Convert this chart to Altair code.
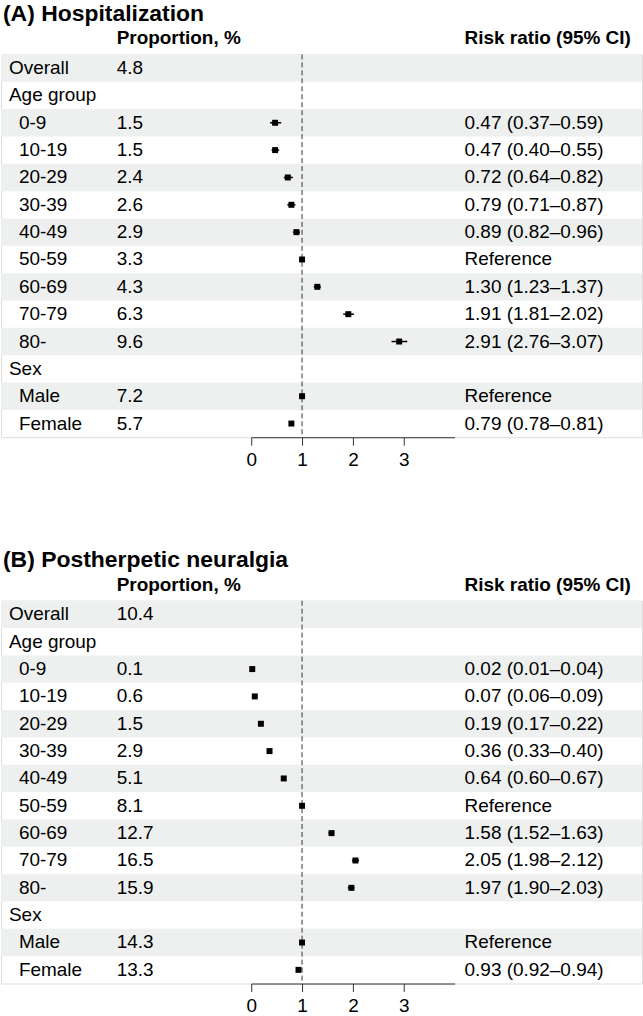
import altair as alt
import pandas as pd

# ---------------- data ----------------
row_labels = ["Overall", "Age group", "0-9", "10-19", "20-29", "30-39", "40-49",
              "50-59", "60-69", "70-79", "80-", "Sex", "Male", "Female"]
row_level = ["top", "top", "sub", "sub", "sub", "sub", "sub",
             "sub", "sub", "sub", "sub", "top", "sub", "sub"]
row_is_ref = [False, False, False, False, False, False, False,
              True, False, False, False, False, True, False]

a_title = "(A) Hospitalization"
a_prop = [4.8, None, 1.5, 1.5, 2.4, 2.6, 2.9, 3.3, 4.3, 6.3, 9.6, None, 7.2, 5.7]
a_rr = [None, None, 0.47, 0.47, 0.72, 0.79, 0.89, 1.00, 1.30, 1.91, 2.91, None, 1.00, 0.79]
a_lo = [None, None, 0.37, 0.40, 0.64, 0.71, 0.82, 1.00, 1.23, 1.81, 2.76, None, 1.00, 0.78]
a_hi = [None, None, 0.59, 0.55, 0.82, 0.87, 0.96, 1.00, 1.37, 2.02, 3.07, None, 1.00, 0.81]

b_title = "(B) Postherpetic neuralgia"
b_prop = [10.4, None, 0.1, 0.6, 1.5, 2.9, 5.1, 8.1, 12.7, 16.5, 15.9, None, 14.3, 13.3]
b_rr = [None, None, 0.02, 0.07, 0.19, 0.36, 0.64, 1.00, 1.58, 2.05, 1.97, None, 1.00, 0.93]
b_lo = [None, None, 0.01, 0.06, 0.17, 0.33, 0.60, 1.00, 1.52, 1.98, 1.90, None, 1.00, 0.92]
b_hi = [None, None, 0.04, 0.09, 0.22, 0.40, 0.67, 1.00, 1.63, 2.12, 2.03, None, 1.00, 0.94]

col_headers = ["Proportion, %", "Risk ratio (95% CI)"]
x_ticks = [0, 1, 2, 3]
x_domain = [0, 4]

FONT = "Liberation Sans"
W = 643
H = 384
N = len(row_labels)


def panel(title, prop, rr, lo, hi):
    rr_text = []
    for r, l, h, ref in zip(rr, lo, hi, row_is_ref):
        if ref:
            rr_text.append("Reference")
        elif r is None:
            rr_text.append("")
        else:
            rr_text.append(f"{r:.2f} ({l:.2f}\u2013{h:.2f})")
    df = pd.DataFrame({
        "idx": list(range(N)),
        "label": row_labels,
        "level": row_level,
        "prop": [f"{p:.1f}" if p is not None else "" for p in prop],
        "rr": rr, "lo": lo, "hi": hi,
        "rr_text": rr_text,
    })
    Y = alt.Y("idx:O", scale=alt.Scale(domain=list(range(N)), paddingInner=0, paddingOuter=0), axis=None)
    xscale = alt.Scale(domain=x_domain, range=[251, 455], nice=False, zero=False)
    xaxis = alt.Axis(values=x_ticks, title=None, grid=False, labelFontSize=19, labelColor="black",
                     labelFont=FONT, tickSize=8, labelPadding=5, domainColor="#333333",
                     tickColor="#333333", domainWidth=1, tickWidth=1, labelFlush=False)
    base = alt.Chart(df)

    shade = base.transform_filter("datum.idx % 2 == 0").mark_rect(color="#eef0ef").encode(
        y=Y, x=alt.value(0), x2=alt.value(W))

    dash = alt.Chart(pd.DataFrame({"ref": [1.0]})).mark_rule(
        strokeDash=[5, 3], color="#333333", strokeWidth=1).encode(
        x=alt.X("ref:Q", scale=xscale, axis=xaxis), y=alt.value(0), y2=alt.value(H))

    pts = base.transform_filter("isValid(datum.rr)")
    ci = pts.mark_rule(color="black", strokeWidth=1.5).encode(
        x=alt.X("lo:Q", scale=xscale, axis=xaxis), x2="hi:Q", y=Y)
    sq = pts.mark_square(color="black", size=36, opacity=1).encode(
        x=alt.X("rr:Q", scale=xscale, axis=xaxis), y=Y)

    txt_kw = dict(fontSize=19, font=FONT, color="black", align="left", baseline="middle")
    lab_top = base.transform_filter("datum.level == 'top'").mark_text(**txt_kw).encode(
        y=Y, x=alt.value(8), text="label:N")
    lab_sub = base.transform_filter("datum.level == 'sub'").mark_text(**txt_kw).encode(
        y=Y, x=alt.value(18), text="label:N")
    prop_t = base.mark_text(**txt_kw).encode(y=Y, x=alt.value(116), text="prop:N")
    rr_t = base.mark_text(**txt_kw).encode(y=Y, x=alt.value(465), text="rr_text:N")

    hdr_kw = dict(fontSize=19, font=FONT, fontWeight="bold", color="black",
                  align="left", baseline="alphabetic")
    h1 = alt.Chart(pd.DataFrame({"t": [col_headers[0]]})).mark_text(**hdr_kw).encode(
        x=alt.value(116), y=alt.value(-10), text="t:N")
    h2 = alt.Chart(pd.DataFrame({"t": [col_headers[1]]})).mark_text(**hdr_kw).encode(
        x=alt.value(465), y=alt.value(-10), text="t:N")
    ttl = alt.Chart(pd.DataFrame({"t": [title]})).mark_text(
        fontSize=23, font=FONT, fontWeight="bold", color="black", align="left",
        baseline="alphabetic").encode(x=alt.value(2), y=alt.value(-34), text="t:N")

    return alt.layer(shade, dash, ci, sq, lab_top, lab_sub, prop_t, rr_t, h1, h2, ttl).properties(
        width=W, height=H)


chart = alt.vconcat(
    panel(a_title, a_prop, a_rr, a_lo, a_hi),
    panel(b_title, b_prop, b_rr, b_lo, b_hi),
    spacing=78,
).properties(
    padding={"top": 0, "left": 0, "right": 0, "bottom": 0}
).configure_view(stroke=None).configure(font=FONT, background="white")

chart.save("out.html", embed_options={"renderer": "svg", "actions": False})
